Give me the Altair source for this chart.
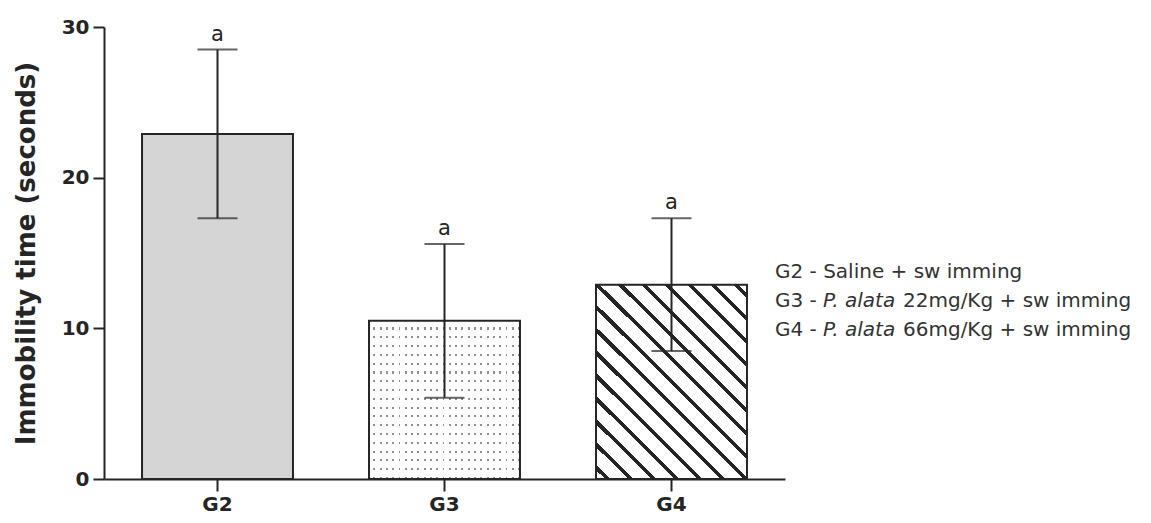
import altair as alt
import pandas as pd

# ---- data ----
groups = ["G2", "G3", "G4"]
means = [22.9, 10.5, 12.9]
sds = [5.6, 5.1, 4.4]
sig_letters = ["a", "a", "a"]
y_ticks = [0, 10, 20, 30]

legend_prefix = ["G2 - ", "G3 - ", "G4 - "]
legend_species = ["", "P. alata", "P. alata"]
legend_rest = ["Saline + sw imming", "22mg/Kg + sw imming", "66mg/Kg + sw imming"]

df = pd.DataFrame({"group": groups, "mean": means, "sd": sds, "sig": sig_letters})
df["lo"] = df["mean"] - df["sd"]
df["hi"] = df["mean"] + df["sd"]

W, H = 681, 452
FONT = "DejaVu Sans"
DARK = "#252525"
CLEAR = "rgba(255,255,255,0)"


def banded(n, start, stop, band_color, gap_color, x1, y1, x2, y2):
    """linear gradient with n repeating hard-edged bands (band between start..stop of each period)"""
    stops = []
    for k in range(n):
        a = round(k / n, 6)
        b = round((k + start) / n, 6)
        c = round((k + stop) / n, 6)
        d = round((k + 1) / n, 6)
        stops += [
            {"offset": a, "color": gap_color},
            {"offset": b, "color": gap_color},
            {"offset": b, "color": band_color},
            {"offset": c, "color": band_color},
            {"offset": c, "color": gap_color},
            {"offset": d, "color": gap_color},
        ]
    return {"gradient": "linear", "x1": x1, "y1": y1, "x2": x2, "y2": y2, "stops": stops}


x_enc = alt.X(
    "group:N",
    sort=groups,
    scale=alt.Scale(paddingInner=0.335, paddingOuter=0.1675),
    axis=alt.Axis(
        title=None, labelAngle=0, labelFont=FONT, labelFontWeight="bold",
        labelFontSize=20, labelColor=DARK, labelPadding=3, tickSize=12,
        tickWidth=2, tickColor=DARK, domainColor=DARK, domainWidth=2,
    ),
)
y_scale = alt.Scale(domain=[0, 30], nice=False, zero=True)
y_axis = alt.Axis(
    values=y_ticks, title="Immobility time (seconds)", grid=False,
    labelFont=FONT, labelFontWeight="bold", labelFontSize=20, labelColor=DARK,
    labelPadding=4, tickSize=11, tickWidth=2, tickColor=DARK,
    domainColor=DARK, domainWidth=2,
    titleFont=FONT, titleFontWeight="bold", titleFontSize=26, titleColor=DARK,
    titleAngle=270, titleX=-78, titleY=H / 2, titleAlign="center", titleBaseline="middle",
)

base = alt.Chart(df)

g2 = base.transform_filter("datum.group == 'G2'").mark_bar(
    color="#d5d5d5", stroke=DARK, strokeWidth=2
).encode(x=x_enc, y=alt.Y("mean:Q", scale=y_scale, axis=y_axis))

# dotted bar (G3): grey base, masked by white column / row bands
g3_base = base.transform_filter("datum.group == 'G3'").mark_bar(color="#8f8f8f").encode(
    x=x_enc, y=alt.Y("mean:Q", scale=y_scale)
)
g3_cols = base.transform_filter("datum.group == 'G3'").mark_bar(
    color=banded(24, 0.0, 0.7, "white", CLEAR, 0, 0, 1, 0)
).encode(x=x_enc, y=alt.Y("mean:Q", scale=y_scale))
g3_rows = base.transform_filter("datum.group == 'G3'").mark_bar(
    color=banded(18, 0.0, 0.76, "white", CLEAR, 0, 0, 0, 1), stroke=DARK, strokeWidth=2
).encode(x=x_enc, y=alt.Y("mean:Q", scale=y_scale))

# hatched bar (G4): diagonal "\" stripes
g4 = base.transform_filter("datum.group == 'G4'").mark_bar(
    color=banded(15, 0.39, 0.61, DARK, "white", 0, 1, 0.859, -0.109), stroke=DARK, strokeWidth=2
).encode(x=x_enc, y=alt.Y("mean:Q", scale=y_scale))

err = base.mark_rule(color=DARK, strokeWidth=2).encode(
    x=x_enc, y=alt.Y("lo:Q", scale=y_scale), y2="hi:Q"
)
cap_hi = base.mark_tick(color=DARK, size=40, thickness=2).encode(
    x=x_enc, y=alt.Y("hi:Q", scale=y_scale)
)
cap_lo = base.mark_tick(color=DARK, size=40, thickness=2).encode(
    x=x_enc, y=alt.Y("lo:Q", scale=y_scale)
)
letters = base.mark_text(
    font=FONT, fontSize=21, color=DARK, baseline="bottom", dy=-5
).encode(x=x_enc, y=alt.Y("hi:Q", scale=y_scale), text="sig:N")

# custom legend (text only, with italic species name)
LEG_FS = 20
LEG_X = 671
LEG_Y = [245, 274, 303]
LEG_COLOR = "#333333"


def seg(txt, xpos, ypos, style="normal"):
    return alt.Chart(pd.DataFrame({"t": [txt]})).mark_text(
        font=FONT, fontSize=LEG_FS, fontStyle=style, color=LEG_COLOR,
        align="left", baseline="middle",
    ).encode(x=alt.value(xpos), y=alt.value(ypos), text="t:N")


legend_layers = []
for i in range(3):
    if legend_species[i]:
        legend_layers.append(seg(legend_prefix[i], LEG_X, LEG_Y[i]))
        legend_layers.append(seg(legend_species[i], LEG_X + 48, LEG_Y[i], "italic"))
        legend_layers.append(seg(legend_rest[i], LEG_X + 128, LEG_Y[i]))
    else:
        legend_layers.append(seg(legend_prefix[i] + legend_rest[i], LEG_X, LEG_Y[i]))

chart = alt.layer(
    g2, g3_base, g3_cols, g3_rows, g4, err, cap_hi, cap_lo, letters, *legend_layers
).properties(
    width=W, height=H,
    autosize=alt.AutoSizeParams(type="none"),
    padding={"left": 96, "top": 19, "right": 358, "bottom": 36},
    background="white",
).configure_view(stroke=None)

chart.save("out.html", embed_options={"renderer": "svg", "actions": False})
